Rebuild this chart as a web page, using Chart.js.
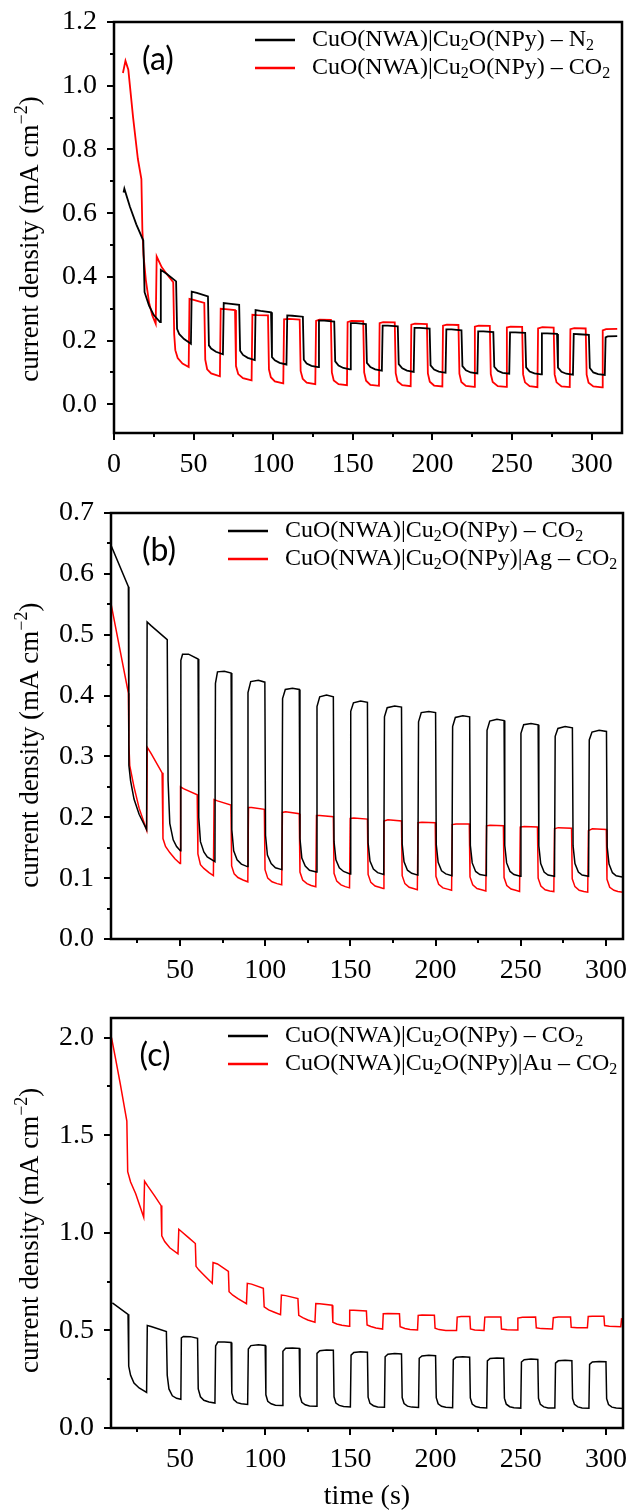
<!DOCTYPE html>
<html>
<head>
<meta charset="utf-8">
<script src="https://cdn.jsdelivr.net/npm/chart.js@4.4.1/dist/chart.umd.min.js"></script>
<style>
  html, body { margin: 0; padding: 0; background: #fff; }
  #page { position: relative; width: 632px; height: 1512px; overflow: hidden; }
  .panel { position: absolute; left: 0; width: 632px; }
</style>
</head>
<body>
<div id="page">
  <div class="panel" style="top:0;height:500px"><canvas id="chartA"></canvas></div>
  <div class="panel" style="top:490px;height:510px"><canvas id="chartB"></canvas></div>
  <div class="panel" style="top:980px;height:532px"><canvas id="chartC"></canvas></div>
</div>
<script>
// ---- data: [time (s), current density (mA cm-2)] ----

// (a) CuO(NWA)|Cu2O(NPy) under N2 and CO2
const aN2 = [
  [6.0,0.665],[6.5,0.677],[10,0.62],[14,0.565],[18.4,0.514],
  [19.2,0.352],[22,0.31],[25,0.28],[28.9,0.258],
  [29.4,0.422],[33,0.41],[39.0,0.386],
  [39.6,0.237],[41,0.22],[44,0.205],[48.3,0.19],
  [48.8,0.354],[52,0.35],[59.0,0.339],
  [59.6,0.185],[61,0.175],[64,0.165],[68.4,0.157],
  [68.9,0.318],[72,0.316],[78.6,0.312],
  [79.2,0.168],[81,0.155],[84,0.146],[88.4,0.139],
  [88.9,0.296],[92,0.293],[98.6,0.289],
  [99.2,0.148],[101,0.138],[104,0.13],[108.3,0.125],
  [108.8,0.279],[112,0.278],[118.6,0.275],
  [119.2,0.14],[121,0.128],[124,0.121],[128.2,0.117],
  [128.7,0.263],[132,0.263],[138.3,0.26],
  [138.9,0.135],[141,0.122],[144,0.114],[148.2,0.11],
  [148.7,0.255],[152,0.255],[158.2,0.252],
  [158.8,0.13],[161,0.117],[164,0.11],[168.2,0.106],
  [168.7,0.247],[172,0.247],[178.2,0.245],
  [178.8,0.126],[181,0.113],[184,0.106],[188.2,0.102],
  [188.7,0.24],[192,0.24],[198.2,0.238],
  [198.8,0.122],[201,0.109],[204,0.103],[208.2,0.099],
  [208.7,0.235],[212,0.235],[218.2,0.232],
  [218.8,0.12],[221,0.107],[224,0.1],[228.2,0.097],
  [228.7,0.229],[232,0.229],[238.2,0.227],
  [238.8,0.118],[241,0.105],[244,0.099],[248.2,0.096],
  [248.7,0.226],[252,0.226],[258.2,0.224],
  [258.8,0.116],[261,0.103],[264,0.097],[268.2,0.094],
  [268.7,0.223],[272,0.223],[278.2,0.221],
  [278.8,0.115],[281,0.102],[284,0.096],[288.2,0.093],
  [288.7,0.221],[292,0.22],[298.2,0.218],
  [298.8,0.114],[301,0.1],[304,0.095],[308.2,0.092],
  [308.7,0.21],[310,0.213],[316,0.214]
];
const aCO2 = [
  [5.6,1.04],[7.2,1.078],[9,1.05],[12,0.9],[15,0.77],[17.2,0.707],
  [17.8,0.55],[18.5,0.47],[20,0.39],[22,0.32],[24,0.28],[26.2,0.253],
  [26.8,0.464],[30,0.43],[33,0.41],[37.2,0.383],
  [37.8,0.22],[38.5,0.17],[40,0.145],[43,0.128],[46.9,0.117],
  [47.4,0.331],[50,0.328],[56.7,0.318],
  [57.3,0.14],[58.5,0.11],[61,0.097],[66.5,0.088],
  [67.0,0.30],[70,0.299],[76.0,0.296],
  [76.6,0.12],[78,0.095],[81,0.082],[86.4,0.075],
  [86.9,0.281],[90,0.28],[96.7,0.279],
  [97.3,0.11],[98.5,0.085],[101,0.072],[106.3,0.066],
  [106.8,0.267],[110,0.268],[116.6,0.266],
  [117.2,0.105],[118.5,0.08],[121,0.068],[126.4,0.063],
  [126.9,0.262],[129,0.266],[136.2,0.265],
  [136.8,0.1],[138,0.075],[141,0.063],[146.3,0.06],
  [146.7,0.258],[149,0.262],[156.5,0.261],
  [157.1,0.1],[158.3,0.074],[161,0.061],[166.4,0.058],
  [166.8,0.255],[169,0.258],[176.3,0.257],
  [176.9,0.098],[178.1,0.072],[181,0.06],[186.3,0.057],
  [186.7,0.25],[189,0.253],[196.5,0.252],
  [197.1,0.097],[198.3,0.071],[201,0.059],[206.2,0.056],
  [206.6,0.247],[209,0.25],[216.3,0.249],
  [216.9,0.096],[218.1,0.07],[221,0.058],[226.2,0.055],
  [226.6,0.244],[229,0.247],[236,0.246],
  [236.6,0.095],[237.8,0.07],[241,0.057],[246.3,0.055],
  [246.7,0.241],[249,0.244],[256.3,0.243],
  [256.9,0.094],[258.1,0.069],[261,0.057],[265.9,0.054],
  [266.3,0.238],[269,0.242],[276.1,0.241],
  [276.7,0.094],[277.9,0.069],[281,0.056],[286.2,0.054],
  [286.6,0.236],[289,0.239],[296.2,0.238],
  [296.8,0.093],[298,0.068],[301,0.056],[306.5,0.053],
  [306.9,0.232],[309,0.236],[316,0.237]
];

// (b) CuO(NWA)|Cu2O(NPy) vs. CuO(NWA)|Cu2O(NPy)|Ag, CO2
const bCuO = [
  [9.5,0.647],[19.7,0.579],
  [20.0,0.285],[21,0.26],[23,0.23],[26,0.205],[30.4,0.18],
  [30.7,0.521],[33,0.515],[42.5,0.492],
  [43.0,0.26],[44,0.19],[46,0.163],[48,0.152],[50.2,0.145],
  [50.5,0.458],[51.5,0.468],[55,0.468],[60.6,0.46],
  [61.0,0.2],[62,0.16],[64,0.143],[66,0.135],[70.5,0.127],
  [70.8,0.42],[72,0.439],[76,0.44],[80.0,0.437],
  [80.4,0.18],[81.5,0.145],[83.5,0.13],[86,0.123],[89.5,0.119],
  [89.9,0.405],[91.5,0.423],[96,0.425],[99.8,0.422],
  [100.2,0.17],[101.3,0.138],[103.5,0.124],[106,0.117],[109.8,0.114],
  [110.2,0.395],[111.8,0.41],[116,0.412],[120.0,0.41],
  [120.4,0.165],[121.5,0.133],[123.5,0.12],[126,0.113],[130.0,0.11],
  [130.4,0.382],[132,0.398],[136,0.401],[140.0,0.398],
  [140.4,0.16],[141.5,0.13],[143.5,0.117],[146,0.111],[149.8,0.107],
  [150.2,0.374],[151.8,0.388],[156,0.391],[160.0,0.389],
  [160.4,0.158],[161.5,0.128],[163.5,0.115],[166,0.109],[169.6,0.106],
  [170.0,0.365],[171.6,0.38],[176,0.383],[180.0,0.381],
  [180.4,0.156],[181.5,0.127],[183.5,0.113],[186,0.108],[189.6,0.105],
  [190.0,0.357],[191.6,0.372],[196,0.374],[200.0,0.372],
  [200.4,0.155],[201.5,0.126],[203.5,0.112],[206,0.107],[209.6,0.104],
  [210.0,0.349],[211.6,0.364],[216,0.367],[220.0,0.365],
  [220.4,0.154],[221.5,0.125],[223.5,0.111],[226,0.106],[229.8,0.104],
  [230.2,0.343],[231.8,0.358],[236,0.361],[240.2,0.359],
  [240.6,0.154],[241.7,0.125],[243.7,0.111],[246,0.106],[249.7,0.103],
  [250.1,0.338],[251.7,0.352],[256,0.354],[260.2,0.352],
  [260.6,0.153],[261.7,0.124],[263.7,0.11],[266,0.105],[269.8,0.103],
  [270.2,0.333],[271.8,0.346],[276,0.349],[280.3,0.347],
  [280.7,0.153],[281.8,0.124],[283.8,0.11],[286,0.105],[289.8,0.103],
  [290.2,0.327],[291.8,0.34],[296,0.343],[300.3,0.341],
  [300.7,0.152],[301.8,0.123],[303.8,0.109],[306,0.104],[309.5,0.102],
  [309.9,0.33]
];
const bAg = [
  [9.5,0.551],[19.7,0.404],
  [20.0,0.32],[20.5,0.285],[23,0.25],[26,0.215],[30.4,0.179],
  [30.8,0.315],[33,0.305],[39.5,0.273],
  [40.0,0.165],[41.5,0.152],[44,0.142],[47,0.132],[50.0,0.124],
  [50.3,0.25],[52,0.247],[60.1,0.237],
  [60.5,0.14],[62,0.122],[64,0.116],[67,0.109],[69.6,0.104],
  [70.0,0.229],[72,0.227],[79.9,0.22],
  [80.3,0.12],[81.8,0.107],[84,0.101],[87,0.097],[89.8,0.094],
  [90.2,0.216],[92,0.216],[99.5,0.213],
  [99.9,0.114],[101.5,0.1],[104,0.094],[107,0.091],[109.7,0.089],
  [110.1,0.208],[112,0.209],[120.0,0.206],
  [120.4,0.11],[122,0.097],[124.5,0.091],[127,0.088],[129.7,0.086],
  [130.1,0.203],[132,0.203],[140.0,0.201],
  [140.4,0.108],[142,0.095],[144.5,0.089],[147,0.086],[149.5,0.084],
  [149.9,0.198],[152,0.199],[160.0,0.197],
  [160.4,0.106],[162,0.093],[164.5,0.087],[167,0.085],[169.3,0.083],
  [169.7,0.194],[172,0.196],[180.0,0.194],
  [180.4,0.104],[182,0.091],[184.5,0.085],[187,0.083],[189.3,0.081],
  [189.7,0.191],[192,0.192],[199.8,0.191],
  [200.2,0.103],[201.8,0.09],[204.3,0.084],[207,0.082],[209.4,0.08],
  [209.8,0.188],[212,0.189],[219.8,0.189],
  [220.2,0.102],[221.8,0.089],[224.3,0.083],[227,0.081],[229.5,0.079],
  [229.9,0.186],[232,0.187],[239.8,0.186],
  [240.2,0.101],[241.8,0.088],[244.3,0.082],[247,0.08],[249.3,0.078],
  [249.7,0.184],[252,0.185],[259.8,0.184],
  [260.2,0.1],[261.8,0.087],[264.3,0.081],[267,0.079],[269.4,0.078],
  [269.8,0.181],[272,0.183],[279.8,0.182],
  [280.2,0.099],[281.8,0.086],[284.3,0.08],[287,0.078],[289.3,0.077],
  [289.7,0.178],[292,0.181],[300.2,0.18],
  [300.6,0.098],[302.2,0.085],[304.7,0.08],[307,0.078],[310,0.077]
];

// (c) CuO(NWA)|Cu2O(NPy) vs. CuO(NWA)|Cu2O(NPy)|Au, CO2
const cCuO = [
  [10.3,0.641],[19.5,0.582],
  [19.9,0.317],[21,0.27],[23,0.23],[26,0.205],[30.4,0.182],
  [30.8,0.525],[33,0.52],[42.0,0.494],
  [42.5,0.27],[43.5,0.2],[45.5,0.165],[48,0.152],[50.5,0.147],
  [50.8,0.462],[52,0.469],[56,0.468],[60.3,0.459],
  [60.7,0.2],[62,0.16],[64,0.142],[67,0.133],[70.5,0.128],
  [70.9,0.42],[72.2,0.44],[76,0.441],[80.0,0.438],
  [80.4,0.18],[81.5,0.145],[83.5,0.13],[86,0.124],[89.7,0.121],
  [90.1,0.405],[91.6,0.422],[96,0.426],[100.0,0.423],
  [100.4,0.17],[101.5,0.137],[103.5,0.124],[106,0.117],[110.0,0.115],
  [110.4,0.393],[112,0.408],[116,0.41],[120.0,0.408],
  [120.4,0.165],[121.5,0.132],[123.5,0.119],[126,0.113],[130.0,0.111],
  [130.4,0.382],[132,0.396],[136,0.4],[140.0,0.398],
  [140.4,0.16],[141.5,0.128],[143.5,0.116],[146,0.11],[150.0,0.108],
  [150.4,0.373],[152,0.387],[156,0.39],[160.0,0.388],
  [160.4,0.158],[161.5,0.126],[163.5,0.114],[166,0.108],[170.0,0.106],
  [170.4,0.365],[172,0.378],[176,0.381],[180.0,0.379],
  [180.4,0.156],[181.5,0.125],[183.5,0.112],[186,0.107],[190.0,0.105],
  [190.4,0.357],[192,0.369],[196,0.372],[200.0,0.37],
  [200.4,0.155],[201.5,0.124],[203.5,0.111],[206,0.106],[210.0,0.104],
  [210.4,0.35],[212,0.362],[216,0.365],[220.0,0.363],
  [220.4,0.154],[221.5,0.123],[223.5,0.11],[226,0.105],[230.0,0.103],
  [230.4,0.344],[232,0.356],[236,0.359],[240.0,0.357],
  [240.4,0.153],[241.5,0.122],[243.5,0.109],[246,0.104],[250.0,0.102],
  [250.4,0.338],[252,0.35],[256,0.353],[260.0,0.351],
  [260.4,0.152],[261.5,0.121],[263.5,0.108],[266,0.103],[270.0,0.102],
  [270.4,0.332],[272,0.344],[276,0.347],[280.0,0.345],
  [280.4,0.151],[281.5,0.121],[283.5,0.108],[286,0.103],[290.0,0.101],
  [290.4,0.326],[292,0.338],[296,0.341],[300.0,0.339],
  [300.4,0.15],[301.5,0.12],[303.5,0.107],[306,0.102],[310,0.1]
];
const cAu = [
  [9.8,2.0],[12,1.9],[15,1.76],[18.8,1.572],
  [19.3,1.313],[21,1.26],[24,1.2],[28.7,1.079],
  [29.2,1.264],[31,1.24],[35,1.19],[38.9,1.139],
  [39.3,0.984],[41,0.955],[44,0.923],[48.8,0.892],
  [49.3,1.018],[51,1.005],[55,0.975],[59.0,0.945],
  [59.4,0.828],[61,0.81],[64,0.784],[68.9,0.741],
  [69.4,0.848],[72,0.84],[78.4,0.802],
  [78.8,0.698],[81,0.68],[84,0.663],[89.0,0.637],
  [89.5,0.741],[92,0.737],[98.9,0.715],
  [99.4,0.62],[102,0.605],[105,0.594],[109.0,0.58],
  [109.5,0.681],[112,0.678],[119.2,0.663],
  [119.7,0.577],[122,0.565],[125,0.553],[129.2,0.542],
  [129.7,0.637],[132,0.636],[139.3,0.629],
  [139.7,0.542],[142,0.533],[145,0.526],[149.2,0.521],
  [149.6,0.603],[152,0.603],[159.4,0.599],
  [159.8,0.528],[162,0.52],[165,0.512],[168.9,0.507],
  [169.3,0.585],[172,0.587],[178.8,0.585],
  [179.2,0.519],[182,0.51],[185,0.505],[189.4,0.502],
  [189.8,0.577],[192,0.579],[199.3,0.577],
  [199.7,0.511],[202,0.504],[206,0.5],[212.3,0.499],
  [212.7,0.568],[215,0.571],[220.1,0.571],
  [220.5,0.507],[223,0.502],[228.4,0.499],
  [228.9,0.568],[231,0.569],[238.3,0.568],
  [238.7,0.507],[242,0.503],[247.8,0.502],
  [248.3,0.563],[251,0.567],[258.7,0.568],
  [259.1,0.513],[262,0.509],[268.6,0.507],
  [269.1,0.565],[272,0.568],[279.2,0.568],
  [279.6,0.516],[283,0.514],[289.1,0.513],
  [289.6,0.571],[292,0.573],[298.8,0.573],
  [299.2,0.525],[302,0.521],[308.7,0.519],
  [309.2,0.563]
];

// legend labels ("_2" marks a subscript 2)
const labelsA = ['CuO(NWA)|Cu_2O(NPy) \u2013 N_2', 'CuO(NWA)|Cu_2O(NPy) \u2013 CO_2'];
const labelsB = ['CuO(NWA)|Cu_2O(NPy) \u2013 CO_2', 'CuO(NWA)|Cu_2O(NPy)|Ag \u2013 CO_2'];
const labelsC = ['CuO(NWA)|Cu_2O(NPy) \u2013 CO_2', 'CuO(NWA)|Cu_2O(NPy)|Au \u2013 CO_2'];

// tick values
const xMajorA = [0, 50, 100, 150, 200, 250, 300];
const xMajorBC = [50, 100, 150, 200, 250, 300];
const xMinor = [25, 75, 125, 175, 225, 275];
const yMajorA = [0, 0.2, 0.4, 0.6, 0.8, 1.0, 1.2];
const yMinorA = [0.1, 0.3, 0.5, 0.7, 0.9, 1.1];
const yMajorB = [0, 0.1, 0.2, 0.3, 0.4, 0.5, 0.6, 0.7];
const yMinorB = [0.05, 0.15, 0.25, 0.35, 0.45, 0.55, 0.65];
const yMajorC = [0, 0.5, 1.0, 1.5, 2.0];
const yMinorC = [0.25, 0.75, 1.25, 1.75];

const SERIF = "'Liberation Serif', 'Times New Roman', 'DejaVu Serif', serif";
const toXY = arr => arr.map(p => ({ x: p[0], y: p[1] }));
const plainLabel = s => s.replace(/_2/g, '\u2082');

// draws the box, outward ticks, y title, legend (with subscripts) and panel letter
const framePlugin = {
  id: 'frame',
  afterDraw(chart, args, o) {
    const { ctx, chartArea: ca, scales: { x, y } } = chart;
    ctx.save();
    ctx.strokeStyle = '#000';
    ctx.lineWidth = 2.5;
    ctx.strokeRect(ca.left, ca.top, ca.right - ca.left, ca.bottom - ca.top);

    ctx.lineWidth = 2;
    ctx.beginPath();
    const xt = (vals, len) => vals.forEach(v => {
      const px = Math.round(x.getPixelForValue(v));
      if (px < ca.left - 1 || px > ca.right + 1) return;
      ctx.moveTo(px, ca.bottom); ctx.lineTo(px, ca.bottom + len);
    });
    const yt = (vals, len) => vals.forEach(v => {
      const py = Math.round(y.getPixelForValue(v));
      if (py < ca.top - 1 || py > ca.bottom + 1) return;
      ctx.moveTo(ca.left, py); ctx.lineTo(ca.left - len, py);
    });
    xt(o.xMajor, 7); xt(o.xMinor, 4);
    yt(o.yMajor, 7); yt(o.yMinor, 4);
    ctx.stroke();

    // y axis title: current density (mA cm^-2)
    const big = '27px ' + SERIF, small = '18px ' + SERIF;
    const runs = [['current density (mA cm', big, 0], ['\u22122', small, -9], [')', big, 0]];
    let total = 0;
    runs.forEach(r => { ctx.font = r[1]; total += ctx.measureText(r[0]).width; });
    ctx.translate(31, ca.top + o.titleFrac * (ca.bottom - ca.top));
    ctx.rotate(-Math.PI / 2);
    ctx.fillStyle = '#000';
    ctx.textAlign = 'left';
    ctx.textBaseline = 'middle';
    let rx = -total / 2;
    runs.forEach(r => {
      ctx.font = r[1];
      ctx.fillText(r[0], rx, r[2]);
      rx += ctx.measureText(r[0]).width;
    });
    ctx.setTransform(1, 0, 0, 1, 0, 0);

    // legend
    const lx = o.legendX;
    chart.data.datasets.forEach((ds, i) => {
      const ly = ca.top + 18 + i * 28;
      ctx.strokeStyle = ds.borderColor;
      ctx.lineWidth = 2.5;
      ctx.beginPath();
      ctx.moveTo(lx, ly); ctx.lineTo(lx + 40, ly);
      ctx.stroke();
      ctx.fillStyle = '#000';
      ctx.textBaseline = 'middle';
      ctx.textAlign = 'left';
      let tx = lx + 57;
      o.legend[i].split(/(_2)/).forEach(part => {
        if (part === '_2') {
          ctx.font = '16px ' + SERIF;
          ctx.fillText('2', tx, ly + 6);
          tx += ctx.measureText('2').width;
        } else if (part) {
          ctx.font = '24px ' + SERIF;
          ctx.fillText(part, tx, ly);
          tx += ctx.measureText(part).width;
        }
      });
    });

    // panel letter
    ctx.font = "32px Lato, 'Open Sans', sans-serif";
    ctx.fillStyle = '#000';
    ctx.textAlign = 'center';
    ctx.textBaseline = 'middle';
    ctx.fillText(o.letter, o.letterX, ca.top + 38);
    ctx.restore();
  }
};

function makePanel(id, p) {
  const colors = ['#000000', '#ff0000'];
  new Chart(document.getElementById(id), {
    type: 'line',
    data: {
      datasets: p.series.map((s, i) => ({
        label: plainLabel(p.legend[i]),
        data: toXY(s),
        borderColor: colors[i],
        borderWidth: p.lineWidth,
        pointRadius: 0,
        tension: 0,
        fill: false
      }))
    },
    options: {
      responsive: true,
      maintainAspectRatio: false,
      animation: false,
      events: [],
      layout: { padding: { top: p.padTop, right: p.padRight, left: 0, bottom: 0 } },
      plugins: {
        legend: { display: false },
        tooltip: { enabled: false },
        frame: {
          xMajor: p.xMajor, xMinor: xMinor, yMajor: p.yMajor, yMinor: p.yMinor,
          legend: p.legend, legendX: p.legendX, letter: p.letter, letterX: p.letterX,
          titleFrac: p.titleFrac
        }
      },
      scales: {
        x: {
          type: 'linear',
          min: p.xMin, max: p.xMax,
          afterBuildTicks: sc => { sc.ticks = p.xMajor.map(v => ({ value: v })); },
          afterFit: sc => { sc.height = p.xHeight; sc.paddingLeft = 0; sc.paddingRight = 0; },
          grid: { display: false, drawTicks: false },
          border: { display: false },
          ticks: {
            color: '#000', padding: 15, maxRotation: 0, autoSkip: false,
            font: { family: SERIF, size: 28 },
            callback: v => String(v)
          },
          title: {
            display: !!p.xTitle, text: p.xTitle || '', color: '#000',
            font: { family: SERIF, size: 28, lineHeight: 1 }, padding: { top: 0, bottom: 1 }
          }
        },
        y: {
          type: 'linear',
          min: p.yMin, max: p.yMax,
          afterBuildTicks: sc => { sc.ticks = p.yMajor.map(v => ({ value: v })); },
          afterFit: sc => { sc.width = p.yWidth; sc.paddingTop = 0; sc.paddingBottom = 0; },
          grid: { display: false, drawTicks: false },
          border: { display: false },
          ticks: {
            color: '#000', padding: 17, autoSkip: false,
            font: { family: SERIF, size: 28 },
            callback: v => v.toFixed(1)
          },
          title: { display: false }
        }
      }
    },
    plugins: [framePlugin]
  });
}

makePanel('chartA', {
  series: [aN2, aCO2], legend: labelsA, lineWidth: 1.8,
  xMin: 0, xMax: 319, yMin: -0.09, yMax: 1.2,
  xMajor: xMajorA, yMajor: yMajorA, yMinor: yMinorA,
  padTop: 22, padRight: 10, yWidth: 114, xHeight: 67,
  legendX: 255, letter: '(a)', letterX: 158, titleFrac: 0.528
});
makePanel('chartB', {
  series: [bCuO, bAg], legend: labelsB, lineWidth: 1.5,
  xMin: 9.5, xMax: 310, yMin: 0, yMax: 0.7,
  xMajor: xMajorBC, yMajor: yMajorB, yMinor: yMinorB,
  padTop: 23, padRight: 9, yWidth: 111, xHeight: 61,
  legendX: 228, letter: '(b)', letterX: 159, titleFrac: 0.545
});
makePanel('chartC', {
  series: [cCuO, cAu], legend: labelsC, lineWidth: 1.5,
  xMin: 9.5, xMax: 310, yMin: 0, yMax: 2.1,
  xMajor: xMajorBC, yMajor: yMajorC, yMinor: yMinorC,
  padTop: 38, padRight: 9, yWidth: 111, xHeight: 84,
  legendX: 228, letter: '(c)', letterX: 155, xTitle: 'time (s)', titleFrac: 0.518
});
</script>
</body>
</html>
